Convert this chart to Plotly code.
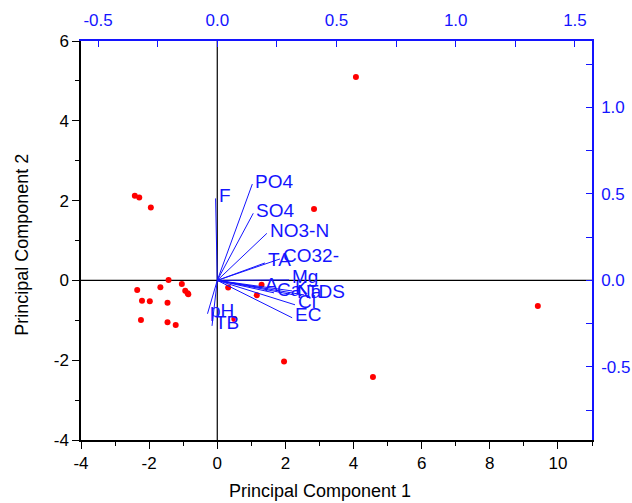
import plotly.graph_objects as go

# PCA scores (samples) on Principal Component 1 / 2
pc1_scores = [-2.42, -2.29, -1.95, -1.43, -1.04, -2.35, -1.67, -0.94, -0.87, -0.85,
              -2.21, -1.98, -1.46, -2.24, -1.46, -1.22,
              4.07, 2.84, 1.96, 4.57, 9.41, 0.32, 1.30, 1.16, 0.50]
pc2_scores = [2.12, 2.08, 1.83, 0.01, -0.09, -0.24, -0.17, -0.26, -0.32, -0.35,
              -0.51, -0.52, -0.56, -0.99, -1.05, -1.12,
              5.10, 1.79, -2.03, -2.42, -0.64, -0.18, -0.11, -0.37, -0.97]

# Variable loadings (top / right axes)
var_names = ["F", "PO4", "SO4", "NO3-N", "TA", "CO32-", "Mg", "A", "Ca", "K",
             "Na", "TDS", "Cl", "EC", "pH", "TB"]
load_pc1 = [-0.007, 0.147, 0.151, 0.208, 0.200, 0.263, 0.301, 0.188, 0.238, 0.314,
            0.322, 0.364, 0.326, 0.314, -0.041, -0.022]
load_pc2 = [0.474, 0.557, 0.388, 0.272, 0.101, 0.124, 0.003, -0.043, -0.072, -0.061,
            -0.084, -0.084, -0.141, -0.216, -0.193, -0.263]

# tick values / labels
x_ticks = [-4, -2, 0, 2, 4, 6, 8, 10]
y_ticks = [-4, -2, 0, 2, 4, 6]
x2_ticks = [-0.5, 0.0, 0.5, 1.0, 1.5]
y2_ticks = [-0.5, 0.0, 0.5, 1.0]

score_x_range = [-4, 11]
score_y_range = [-4, 6]
x_ratio = 7.0
y_ratio = 4.335
load_x_range = [v / x_ratio for v in score_x_range]
load_y_range = [v / y_ratio for v in score_y_range]

BLUE = "#1414ff"
FONT = "Arial, Liberation Sans, sans-serif"
TICK_SIZE = 17
LABEL_SIZE = 19


def int_labels(vals):
    return [str(v) for v in vals]


def dec_labels(vals):
    return ["%.1f" % v for v in vals]


fig = go.Figure()

# loading vectors from origin
vx, vy = [], []
for lx, ly in zip(load_pc1, load_pc2):
    vx += [0, lx, None]
    vy += [0, ly, None]
fig.add_trace(go.Scatter(x=vx, y=vy, mode="lines", xaxis="x2", yaxis="y2",
                         line=dict(color=BLUE, width=1), hoverinfo="skip",
                         showlegend=False))

# sample scores
fig.add_trace(go.Scatter(x=pc1_scores, y=pc2_scores, mode="markers",
                         marker=dict(color="#ff0000", size=6),
                         showlegend=False))

# variable labels at vector tips
for name, lx, ly in zip(var_names, load_pc1, load_pc2):
    fig.add_annotation(x=lx, y=ly, xref="x2", yref="y2", text=name,
                       showarrow=False, xanchor="left", yanchor="middle",
                       xshift=1, yshift=3,
                       font=dict(family=FONT, size=LABEL_SIZE, color=BLUE))

# axis titles
fig.add_annotation(x=0.4677, y=-0.128, xref="paper", yref="paper",
                   text="Principal Component 1", showarrow=False,
                   xanchor="center", yanchor="middle",
                   font=dict(family=FONT, size=18, color="black"))
fig.add_annotation(x=-0.1155, y=0.489, xref="paper", yref="paper",
                   text="Principal Component 2", showarrow=False, textangle=-90,
                   xanchor="center", yanchor="middle",
                   font=dict(family=FONT, size=18, color="black"))

# cross-hair lines through the origin
fig.add_shape(type="line", xref="x", yref="paper", x0=0, x1=0, y0=0, y1=1,
              line=dict(color="black", width=1.2), layer="below")
fig.add_shape(type="line", xref="paper", yref="y", x0=0, x1=1, y0=0, y1=0,
              line=dict(color="black", width=1.2), layer="below")

common = dict(showgrid=False, zeroline=False, automargin=False, tickwidth=1)

fig.update_layout(
    width=632, height=503,
    margin=dict(l=81, r=40, t=41, b=63),
    plot_bgcolor="white", paper_bgcolor="white",
    font=dict(family=FONT, size=TICK_SIZE, color="black"),
    xaxis=dict(range=score_x_range, tickvals=x_ticks, ticktext=int_labels(x_ticks),
               ticks="outside", ticklen=7, tickcolor="black",
               minor=dict(ticks="outside", dtick=1, ticklen=4, tickcolor="black"),
               showline=True, linecolor="black", linewidth=1.5,
               tickfont=dict(size=TICK_SIZE, color="black"), **common),
    yaxis=dict(range=score_y_range, tickvals=y_ticks, ticktext=int_labels(y_ticks),
               ticks="outside", ticklen=7, tickcolor="black",
               minor=dict(ticks="outside", dtick=1, ticklen=4, tickcolor="black"),
               showline=True, linecolor="black", linewidth=1.5,
               tickfont=dict(size=TICK_SIZE, color="black"), **common),
    xaxis2=dict(range=load_x_range, overlaying="x", side="top", anchor="y",
                tickvals=x2_ticks, ticktext=dec_labels(x2_ticks),
                ticks="inside", ticklen=6, tickcolor=BLUE,
                minor=dict(ticks="inside", dtick=0.25, ticklen=6, tickcolor=BLUE),
                showline=True, linecolor=BLUE, linewidth=1.5,
                ticklabelstandoff=6,
                tickfont=dict(size=TICK_SIZE, color=BLUE), **common),
    yaxis2=dict(range=load_y_range, overlaying="y", side="right", anchor="x",
                tickvals=y2_ticks, ticktext=dec_labels(y2_ticks),
                ticks="inside", ticklen=6, tickcolor=BLUE,
                minor=dict(ticks="inside", dtick=0.25, ticklen=6, tickcolor=BLUE),
                showline=True, linecolor=BLUE, linewidth=1.5,
                ticklabelstandoff=4,
                tickfont=dict(size=TICK_SIZE, color=BLUE), **common),
)

fig.write_html("out.html")
